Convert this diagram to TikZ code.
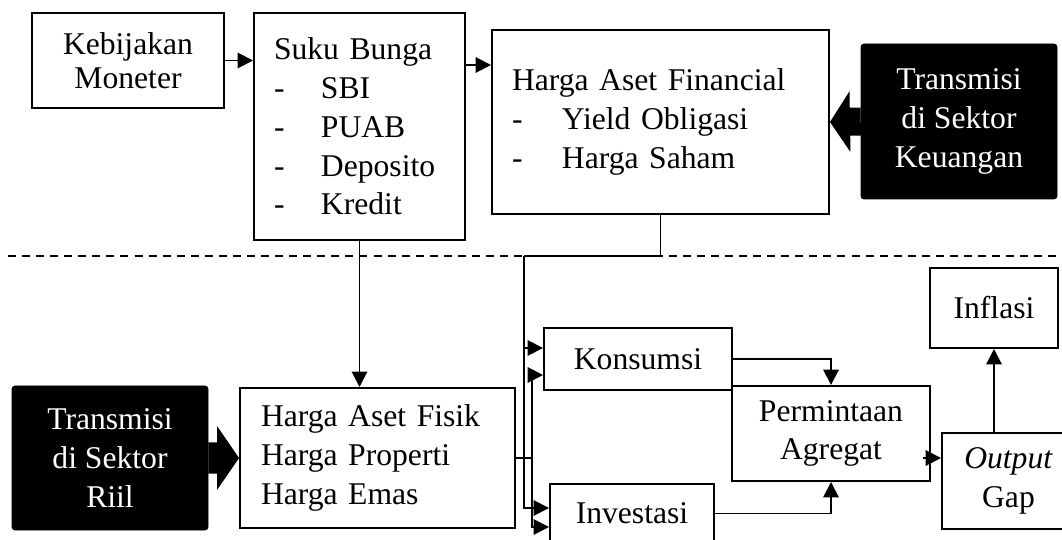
\documentclass[tikz,border=0pt]{standalone}
\usepackage{fontspec}
\setmainfont{Liberation Serif}
\usepackage{tikz}
\usetikzlibrary{calc}
\usetikzlibrary{arrows.meta}
\newcommand{\blockarrow}[5] % from, to, head length, shaft half width, head half width
{
	% head base on the line
	\coordinate (headbase) at ($(#2)!#3!(#1)$);
	% arrow body
	\fill ($(#1)!#4!90:(#2)$) -- ($(headbase)!#4!-90:(#1)$) -- ($(headbase)!#5!-90:(#1)$) -- (#2)
		-- ($(headbase)!#5!90:(#1)$) -- ($(headbase)!#4!90:(#1)$) -- ($(#1)!#4!-90:(#2)$) -- cycle;
}
\newcommand{\dashitem}[2]{\makebox[#1][l]{-}#2}

\begin{document}
\begin{tikzpicture}[
	font=\fontsize{22.5}{27.6}\selectfont,
	box/.style={draw, line width=1.4pt, align=center, inner sep=0pt},
	listbox/.style={draw, line width=1.4pt, align=left, inner ysep=0pt},
	darkbox/.style={draw, fill=black, text=white, rounded corners=2pt, align=center, inner sep=0pt},
	arr/.style={line width=1.4pt, -{Triangle[length=11pt,width=11pt]}},
	link/.style={line width=1.4pt},
	divider/.style={line width=1.2pt, dash pattern=on 5.7pt off 4.3pt}
]
	% page: 1062 x 539 px, 40 px per cm
	\useasboundingbox (0,0) rectangle (26.55,13.475);
	
	% upper half: sektor keuangan
	\node[box, minimum width=4.8cm, minimum height=2.375cm] (keb) at (3.2,11.9625) {Kebijakan\\[-3pt]Moneter};
	\node[listbox, text width=4.275cm, inner xsep=0.5cm, minimum height=5.675cm] (suku) at (8.9875,10.3125)
		{Suku Bunga\\ \dashitem{1.175cm}{SBI}\\ \dashitem{1.175cm}{PUAB}\\ \dashitem{1.175cm}{Deposito}\\ \dashitem{1.175cm}{Kredit}};
	\node[listbox, text width=7.425cm, inner xsep=0.5cm, minimum height=4.6cm] (fin) at (16.5125,10.425)
		{Harga Aset Financial\\ \dashitem{1.25cm}{Yield Obligasi}\\ \dashitem{1.25cm}{Harga Saham}};
	\node[darkbox, minimum width=4.9cm, minimum height=3.875cm] (keu) at (23.975,10.4375) {Transmisi\\di Sektor\\Keuangan};
	
	% divider
	\draw[divider] (0.2,7.075) -- (26.55,7.075);
	
	% lower half: sektor riil
	\node[darkbox, minimum width=4.9cm, minimum height=3.6cm] (riil) at (2.75,2.025) {Transmisi\\di Sektor\\Riil};
	\node[listbox, text width=5.825cm, inner xsep=0.525cm, minimum height=3.5cm] (fisik) at (9.4375,2.025)
		{Harga Aset Fisik\\Harga Properti\\Harga Emas};
	\node[box, minimum width=4.7cm, minimum height=1.55cm] (kons) at (15.95,4.5) {Konsumsi};
	\node[box, minimum width=4.1cm, minimum height=1.475cm] (inv) at (15.8,0.6375) {Investasi};
	\node[box, minimum width=4.95cm, minimum height=2.375cm] (perm) at (20.775,2.6375) {Permintaan\\Agregat};
	\node[box, minimum width=3.325cm, minimum height=2.4cm] (gap) at (25.2125,1.45) {\textit{Output}\\Gap};
	\node[box, minimum width=3.2cm, minimum height=2cm] (infl) at (24.85,5.775) {Inflasi};
	
	% block arrows
	\blockarrow{keu.west}{fin.east}{0.5cm}{0.35cm}{0.76cm};
	\blockarrow{riil.east}{fisik.west}{0.55cm}{0.39cm}{0.8cm};
	
	% connectors
	\draw[arr] (keb.east) -- (keb.east -| suku.west);
	\draw[arr] (suku.east |- 0,11.85) -- (fin.west |- 0,11.85);
	\draw[arr] (suku.south) -- (suku.south |- fisik.north);
	
	\coordinate (busf) at (13.1,7.075);
	\draw[link] (fin.south) |- (busf);
	\draw[arr] (busf) |- (inv.west |- 0,0.775);
	\draw[arr] (busf |- 0,4.775) -- (kons.west |- 0,4.775);
	
	\coordinate (busr) at (13.3,2.025);
	\draw[link] (fisik.east) -- (busr);
	\draw[arr] (busr) |- (kons.west |- 0,4.1);
	\draw[arr] (busr) |- (inv.west |- 0,0.3);
	
	\draw[arr] (kons.east) -| (perm.north);
	\draw[arr] (inv.east) -| (perm.south);
	\coordinate (permout) at ([xshift=-0.2cm]perm.east);
	\draw[arr] (permout |- 0,2.025) -- (gap.west |- 0,2.025);
	\draw[arr] (infl.south |- gap.north) -- (infl.south);
\end{tikzpicture}
\end{document}
